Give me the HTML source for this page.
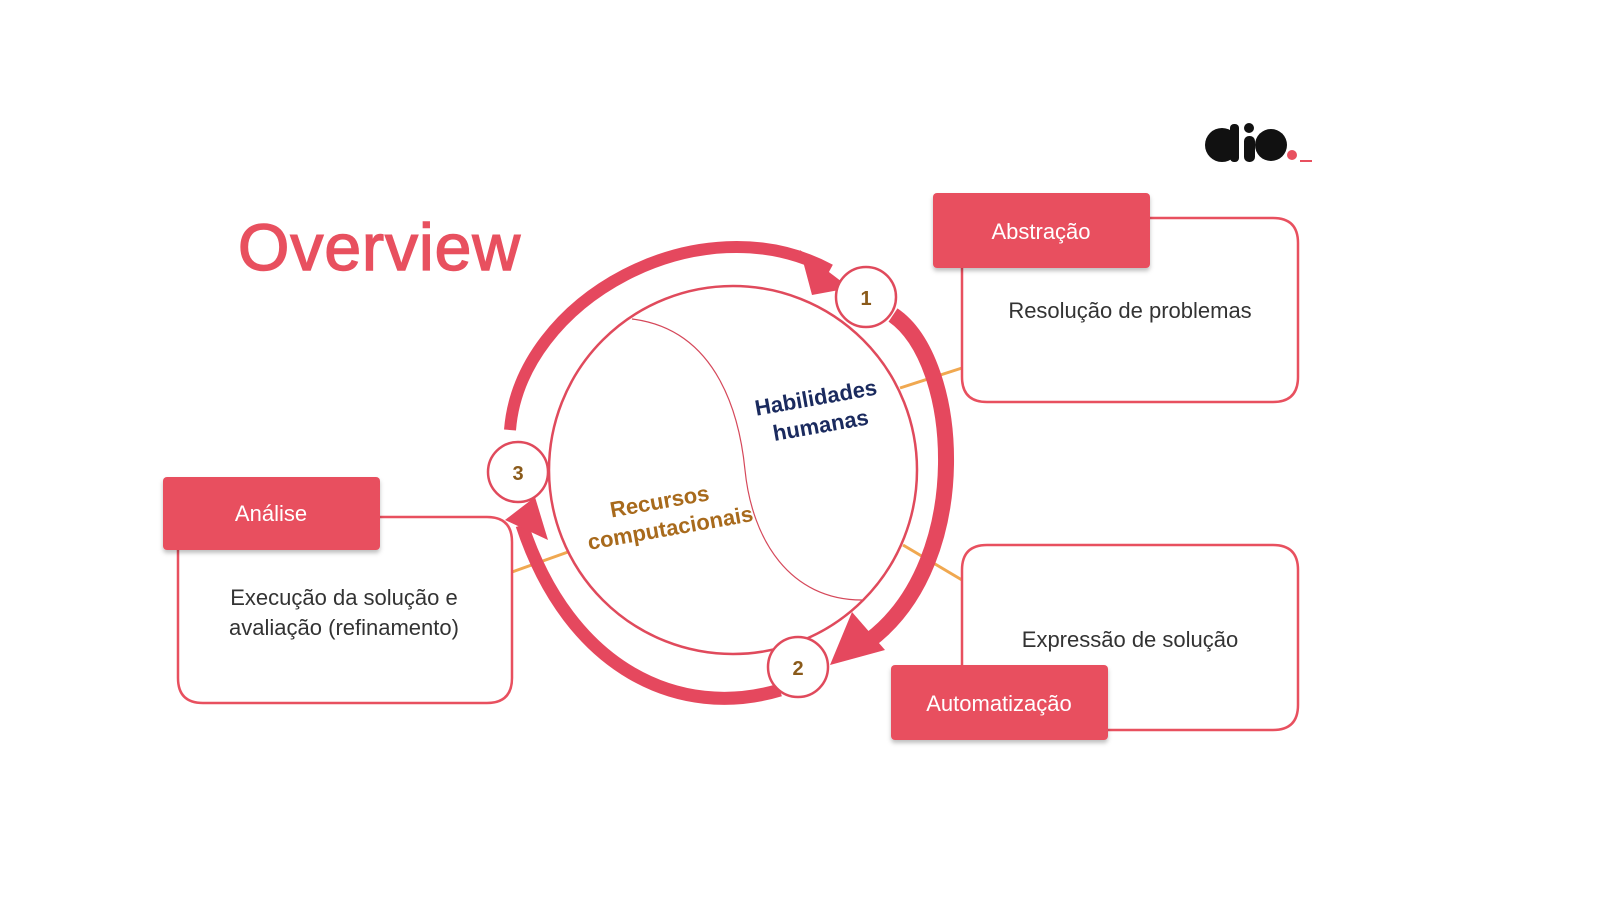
<!DOCTYPE html>
<html><head><meta charset="utf-8"><style>
body{margin:0;background:#fff;width:1600px;height:900px;overflow:hidden;font-family:"Liberation Sans",sans-serif}
</style></head><body>
<svg width="1600" height="900" viewBox="0 0 1600 900" xmlns="http://www.w3.org/2000/svg" font-family="Liberation Sans, sans-serif">
<defs><filter id="sh" x="-10%" y="-10%" width="120%" height="130%"><feDropShadow dx="0" dy="3" stdDeviation="2" flood-color="#000" flood-opacity="0.25"/></filter></defs>
<text x="238" y="270" font-size="66" fill="#e8505f" stroke="#e8505f" stroke-width="1.5" letter-spacing="1">Overview</text>
<g fill="#111">
<circle cx="1222" cy="145" r="17"/><rect x="1230" y="124" width="9" height="38" rx="4"/>
<rect x="1244" y="136" width="11" height="26" rx="5"/><circle cx="1249" cy="128" r="5"/>
<circle cx="1271" cy="145" r="16"/></g>
<circle cx="1292" cy="155" r="5" fill="#e8505f"/><rect x="1300" y="160" width="12" height="2" fill="#e8505f"/>
<g stroke="#f0a850" stroke-width="3"><line x1="900" y1="388" x2="962" y2="368"/><line x1="512" y1="572" x2="568" y2="552"/><line x1="903" y1="545" x2="962" y2="580"/></g>
<g fill="#fff" stroke="#e8505f" stroke-width="2.5">
<path d="M1150 218 H1273 Q1298 218 1298 243 V377 Q1298 402 1273 402 H987 Q962 402 962 377 V268"/>
<path d="M380 517 H487 Q512 517 512 542 V678 Q512 703 487 703 H203 Q178 703 178 678 V550"/>
<path d="M962 665 V570 Q962 545 987 545 H1273 Q1298 545 1298 570 V705 Q1298 730 1273 730 H1108"/>
</g>
<g fill="#e8505f" filter="url(#sh)">
<rect x="933" y="193" width="217" height="75" rx="4"/>
<rect x="163" y="477" width="217" height="73" rx="4"/>
<rect x="891" y="665" width="217" height="75" rx="4"/>
</g>
<g fill="#fff" font-size="22" text-anchor="middle">
<text x="1041" y="239">Abstração</text>
<text x="271" y="521">Análise</text>
<text x="999" y="711">Automatização</text>
</g>
<g fill="#333" font-size="22" text-anchor="middle">
<text x="1130" y="318">Resolução de problemas</text>
<text x="344" y="605">Execução da solução e</text>
<text x="344" y="635">avaliação (refinamento)</text>
<text x="1130" y="647">Expressão de solução</text>
</g>
<circle cx="733" cy="470" r="184" fill="#fff" stroke="#e04a5c" stroke-width="2.5"/>
<path d="M632 319 C720 330 740 420 745 470 C752 540 790 600 862 600" fill="none" stroke="#d5485a" stroke-width="1.2"/>
<g fill="none" stroke="#e5485e" stroke-linecap="butt">
<path d="M510 430 C520 300 700 200 830 270" stroke-width="12"/>
<path d="M893 315 C960 360 975 560 870 640" stroke-width="16"/>
<path d="M780 690 C680 720 570 670 522 525" stroke-width="13"/>
</g>
<g fill="#e5485e">
<polygon points="800,250 850,288 812,295"/>
<polygon points="852,612 830,665 885,650"/>
<polygon points="505,520 535,497 548,540"/>
</g>
<g fill="#fff" stroke="#e04a5c" stroke-width="2.5">
<circle cx="866" cy="297" r="30"/><circle cx="798" cy="667" r="30"/><circle cx="518" cy="472" r="30"/>
</g>
<g fill="#8a5a1a" font-size="20" font-weight="bold" text-anchor="middle">
<text x="866" y="305">1</text><text x="798" y="675">2</text><text x="518" y="480">3</text>
</g>
<g font-size="22" font-weight="bold" text-anchor="middle">
<g transform="rotate(-10 818 410)" fill="#1a2a5e"><text x="818" y="405">Habilidades</text><text x="818" y="433">humanas</text></g>
<g transform="rotate(-10 666 515)" fill="#a86a1c"><text x="662" y="508">Recursos</text><text x="668" y="536">computacionais</text></g>
</g>
</svg>
</body></html>
